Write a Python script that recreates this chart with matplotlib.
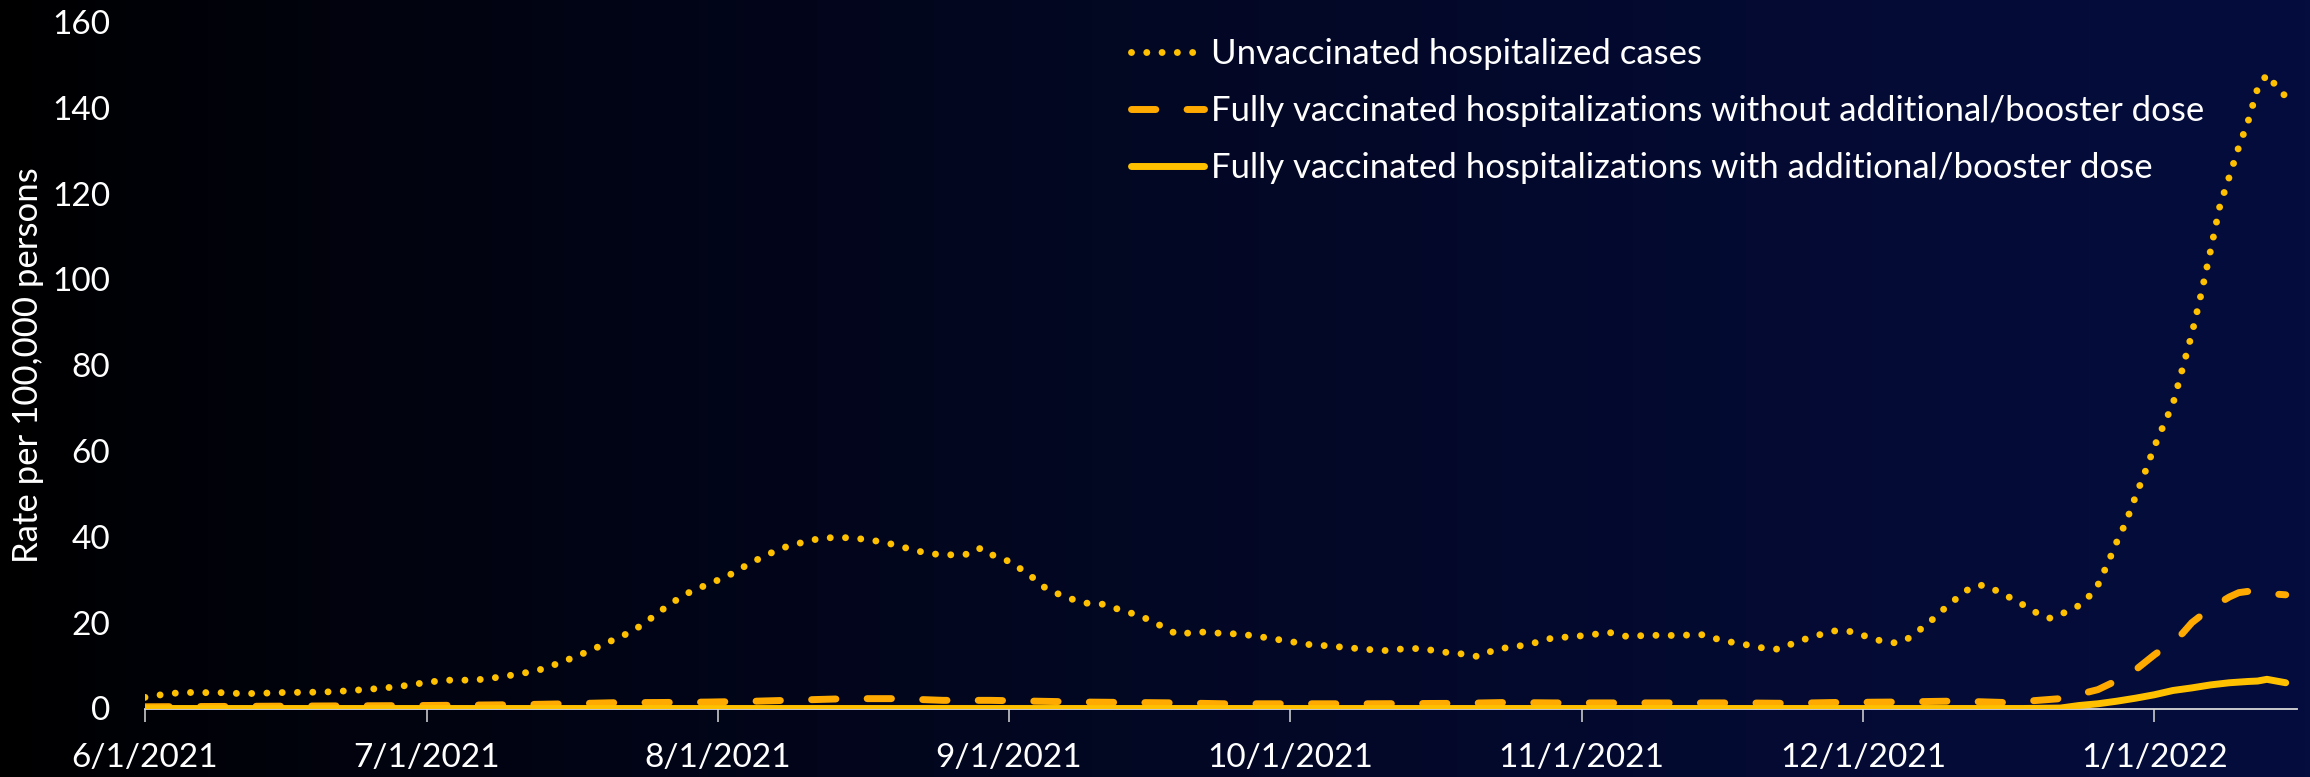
import numpy as np
import pandas as pd
import matplotlib
matplotlib.use("Agg")
import matplotlib.pyplot as plt

plt.rcParams['font.family'] = ['Lato', 'DejaVu Sans']

start = pd.Timestamp('2021-06-01')

# unvaccinated hospitalized cases (days since 6/1/2021, rate per 100k)
unvax_day = [0, 2, 4, 6, 8, 10, 12, 14, 16, 18, 20, 22, 24, 26, 28, 30, 32, 34, 36, 38,
             40, 42, 44, 46, 48, 50, 52, 54, 56, 58, 60, 62, 64, 66, 68, 70, 72, 74, 76, 78,
             80, 82, 84, 86, 88, 89, 90, 92, 94, 96, 98, 100, 102, 104, 106, 108, 110, 112, 114, 116,
             118, 120, 122, 124, 126, 128, 130, 132, 134, 136, 138, 140, 142, 144, 146, 148, 150, 152, 154, 156,
             158, 160, 162, 164, 166, 168, 170, 172, 174, 176, 178, 180, 182, 184, 186, 187, 188, 190, 192, 194,
             195, 196, 198, 200, 202, 203, 204, 206, 207, 208, 209, 210, 211, 212, 213, 214, 215, 216, 217, 218,
             219, 220, 221, 222, 223, 224, 225, 226, 227, 228]
unvax_rate = [2.6, 3.3, 3.75, 3.7, 3.7, 3.5, 3.5, 3.7, 3.75, 3.8, 3.9, 4.2, 4.5, 4.9, 5.4, 6.1, 6.6, 6.6, 6.8, 7.4,
              8.1, 9.0, 10.5, 12.2, 14.1, 16.1, 18.1, 21.2, 24.5, 27.1, 29.0, 30.8, 33.3, 35.6, 37.5, 38.7, 39.7, 39.9, 39.6, 39.0,
              38.1, 36.8, 36.0, 35.8, 36.0, 37.4, 36.0, 34.3, 31.5, 27.9, 26.0, 24.6, 24.3, 22.9, 21.6, 19.5, 17.2, 17.9, 17.6, 17.4,
              17.0, 16.3, 15.6, 14.9, 14.6, 14.2, 13.8, 13.5, 13.9, 14.0, 13.2, 12.8, 12.1, 13.9, 14.4, 15.3, 16.5, 16.7, 17.2, 17.7,
              16.7, 17.1, 17.0, 17.1, 17.2, 15.8, 15.1, 14.2, 13.8, 15.6, 17.0, 18.1, 17.9, 16.2, 15.3, 15.4, 16.6, 20.0, 24.0, 27.5,
              28.7, 28.7, 26.6, 24.2, 21.6, 21.0, 21.9, 24.0, 26.0, 28.8, 33.6, 38.8, 43.5, 49.4, 55.0, 61.0, 66.1, 71.1, 79.2, 87.3,
              96.7, 106.8, 117.3, 124.0, 130.9, 136.9, 144.5, 147.8, 145.0, 142.6]

# fully vaccinated without additional/booster dose
novax_day = [0, 10, 20, 30, 40, 45, 50, 55, 60, 65, 70, 75, 80, 85, 90, 95, 100, 105, 110, 115,
             120, 130, 140, 145, 150, 160, 170, 175, 180, 186, 192, 195, 198, 201, 204, 206, 208, 210, 212, 214,
             216, 217, 218, 219, 220, 221, 222, 223, 224, 226, 228]
novax_rate = [0.4, 0.5, 0.6, 0.7, 0.9, 1.1, 1.35, 1.4, 1.5, 1.7, 2.0, 2.3, 2.3, 1.9, 1.9, 1.7, 1.5, 1.4, 1.3, 1.1,
              1.1, 1.1, 1.2, 1.4, 1.3, 1.3, 1.3, 1.2, 1.4, 1.5, 1.7, 1.6, 1.4, 1.8, 2.3, 3.3, 4.4, 6.5, 9.0, 12.5,
              15.6, 17.5, 20.0, 21.7, 23.3, 24.7, 26.0, 27.0, 27.3, 26.8, 26.5]

# fully vaccinated with additional/booster dose
boost_day = [0, 100, 200, 204, 206, 208, 210, 212, 214, 216, 218, 220, 222, 224, 225, 226, 227, 228]
boost_rate = [0, 0, 0, 0.1, 0.7, 1.1, 1.7, 2.4, 3.2, 4.2, 4.8, 5.5, 6.0, 6.3, 6.4, 6.8, 6.4, 6.0]

tick_dates = ['2021-06-01', '2021-07-01', '2021-08-01', '2021-09-01', '2021-10-01',
              '2021-11-01', '2021-12-01', '2022-01-01']
tick_labels = ['6/1/2021', '7/1/2021', '8/1/2021', '9/1/2021', '10/1/2021',
               '11/1/2021', '12/1/2021', '1/1/2022']

W, H = 2310, 777
fig = plt.figure(figsize=(W / 100, H / 100), dpi=100)

# background gradient black -> navy
bg = fig.add_axes([0, 0, 1, 1], zorder=-10)
t = np.linspace(0, 1, 512) ** 0.8
c0 = np.array([0, 0, 0]) / 255
c1 = np.array([5, 13, 62]) / 255
grad = c0[None, :] * (1 - t[:, None]) + c1[None, :] * t[:, None]
bg.imshow(grad[None, :, :], aspect='auto', extent=[0, 1, 0, 1])
bg.axis('off')

ax = fig.add_axes([145 / W, (H - 708.5) / H, (2297 - 145) / W, (708.5 - 22) / H])
ax.set_facecolor('none')

gold = '#FFC000'
orange = '#FFAA00'
lw = 5

def to_dates(days):
    return start + pd.to_timedelta(days, unit='D')

ax.plot(to_dates(unvax_day), unvax_rate, color=gold, lw=lw,
        linestyle=(0, (0.001, 2.2)), dash_capstyle='round',
        label='Unvaccinated hospitalized cases')
ax.plot(to_dates(novax_day), novax_rate, color=orange, lw=lw,
        linestyle=(0, (3.5, 4.5)), dash_capstyle='round',
        label='Fully vaccinated hospitalizations without additional/booster dose')
ax.plot(to_dates(boost_day), boost_rate, color=gold, lw=lw,
        solid_capstyle='round',
        label='Fully vaccinated hospitalizations with additional/booster dose')

ax.set_ylim(0, 160)
ax.set_xlim(start, start + pd.Timedelta(days=229.2))
ax.set_yticks(range(0, 161, 20))
ax.set_xticks(pd.to_datetime(tick_dates))
ax.set_xticklabels(tick_labels)

for s in ['top', 'right', 'left']:
    ax.spines[s].set_visible(False)
ax.spines['bottom'].set_color('#d9d9d9')
ax.spines['bottom'].set_linewidth(1.3)
ax.spines['bottom'].set_zorder(0.5)

ax.tick_params(axis='x', colors='#d9d9d9', length=9, width=1.1, direction='out',
               labelcolor='white', labelsize=24, pad=16)
ax.tick_params(axis='y', length=0, labelcolor='white', labelsize=24, pad=25)

ax.set_ylabel('Rate per 100,000 persons', color='white', fontsize=25)
ax.yaxis.set_label_coords(-(145 - 44) / (2297 - 145), 0.5)

leg = ax.legend(loc='upper left', bbox_to_anchor=(1131 / W, 1 - 38 / H),
                bbox_transform=fig.transFigure, frameon=False, fontsize=25,
                handlelength=2.1, handletextpad=0.2, labelspacing=0.72,
                borderpad=0, borderaxespad=0)
for txt in leg.get_texts():
    txt.set_color('white')

fig.savefig('out.png', dpi=100)
